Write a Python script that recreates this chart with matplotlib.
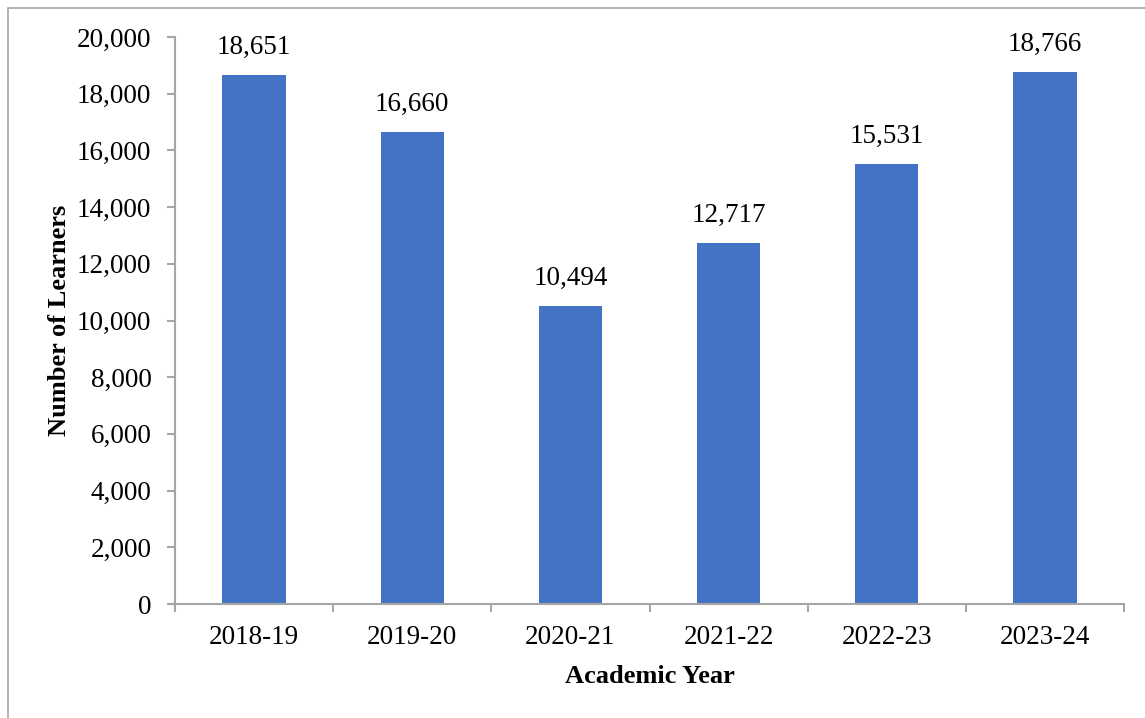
import matplotlib.pyplot as plt
from matplotlib.patches import Rectangle
from matplotlib.ticker import FuncFormatter, MultipleLocator

years = ["2018-19", "2019-20", "2020-21", "2021-22", "2022-23", "2023-24"]
learners = [18651, 16660, 10494, 12717, 15531, 18766]

plt.rcParams['font.family'] = ['Liberation Serif', 'DejaVu Serif']

fig = plt.figure(figsize=(11.45, 7.18), dpi=100)
ax = fig.add_axes([175/1145, 1-604/718, (1124-175)/1145, (604-37)/718])

x = range(len(years))
bars = ax.bar(x, learners, width=0.4, color="#4472C4")
for b, v in zip(bars, learners):
    ax.annotate(f"{v:,}", (b.get_x() + b.get_width()/2, v), xytext=(0, 11),
                textcoords="offset points", ha="center", va="bottom", fontsize=19.5)

ax.set_xlim(-0.5, len(years) - 0.5)
ax.set_ylim(0, 20000)
ax.yaxis.set_major_locator(MultipleLocator(2000))
ax.yaxis.set_major_formatter(FuncFormatter(lambda v, p: f"{int(v):,}"))
ax.set_xticks(list(x))
ax.set_xticklabels(years)
ax.set_xticks([i - 0.5 for i in range(len(years) + 1)], minor=True)
ax.tick_params(axis="x", which="major", length=0, pad=15, labelsize=19.5)
ax.tick_params(axis="x", which="minor", length=6, color="#A6A6A6", width=1.5)
ax.tick_params(axis="y", length=6, color="#A6A6A6", width=1.5, labelsize=19.5, pad=11)

for s in ["top", "right"]:
    ax.spines[s].set_visible(False)
for s in ["left", "bottom"]:
    ax.spines[s].set_color("#A6A6A6")
    ax.spines[s].set_linewidth(1.5)

ax.set_xlabel("Academic Year", fontsize=19, fontweight="bold", labelpad=11)
ax.set_ylabel("Number of Learners", fontsize=19, fontweight="bold", labelpad=4)

# outer frame
fig.patches.append(Rectangle((8/1145, -0.01), 1.02, 1 - 8/718 + 0.01, transform=fig.transFigure,
                             fill=False, edgecolor="#A6A6A6", linewidth=1.2))

fig.savefig("out.png", dpi=100)
